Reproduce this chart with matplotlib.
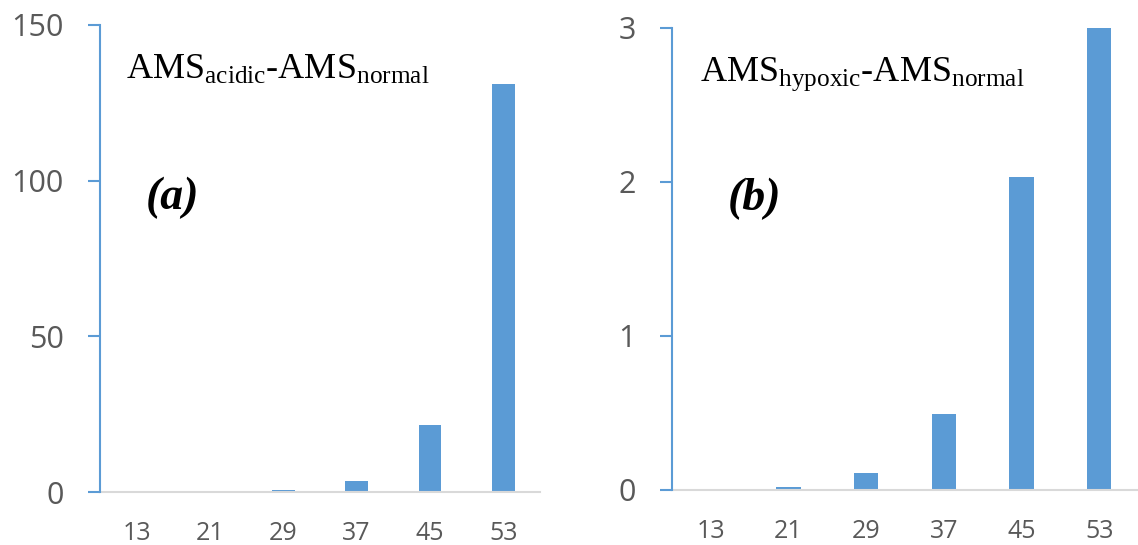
import matplotlib
matplotlib.use('Agg')
import matplotlib.pyplot as plt
import numpy as np

plt.rcParams['mathtext.fontset'] = 'custom'
plt.rcParams['mathtext.rm'] = 'Liberation Serif'
plt.rcParams['mathtext.it'] = 'Liberation Serif:italic'

# bar data for both panels
categories = ['13', '21', '29', '37', '45', '53']
acidicDiff = [0.0, 0.0, 0.6, 3.4, 21.6, 131.0]
hypoxicDiff = [0.0, 0.02, 0.11, 0.49, 2.03, 3.0]

acidicTicks = [0, 50, 100, 150]
hypoxicTicks = [0, 1, 2, 3]

barColor = '#5B9BD5'
axisBlue = '#5B9BD5'
tickGray = '#595959'

fig = plt.figure(figsize=(11.38, 5.45), dpi=100)
ax1 = fig.add_axes([0.0879, 0.0972, 0.3866, 0.857])
ax2 = fig.add_axes([0.5905, 0.101, 0.4095, 0.848])


def styleAxis(ax, vals, yticks, label, tag, tagX):
    x = np.arange(len(categories))
    ax.bar(x, vals, width=0.31, color=barColor, zorder=2)
    ax.set_xlim(-0.5, len(categories) - 0.5)
    ax.set_ylim(0, yticks[-1])
    ax.set_yticks(yticks)
    ax.set_xticks(x)
    ax.set_xticklabels(categories)
    for side in ['top', 'right']:
        ax.spines[side].set_visible(False)
    ax.spines['left'].set_color(axisBlue)
    ax.spines['left'].set_linewidth(1.5)
    ax.spines['bottom'].set_color('#D9D9D9')
    ax.spines['bottom'].set_linewidth(1.5)
    ax.tick_params(axis='y', colors=axisBlue, length=9, width=1.5, pad=17,
                   labelcolor=tickGray, labelsize=22)
    ax.tick_params(axis='x', length=0, pad=21, labelcolor=tickGray, labelsize=18)
    for t in ax.get_xticklabels() + ax.get_yticklabels():
        t.set_fontfamily('Open Sans')
    ax.spines['left'].set_zorder(3)
    ax.text(0.06, 0.885, label, transform=ax.transAxes, fontsize=26,
            family='Liberation Serif', va='baseline')
    ax.text(tagX, 0.63, tag, transform=ax.transAxes, fontsize=33,
            family='Liberation Serif', style='italic', weight='bold', va='center')


styleAxis(ax1, acidicDiff, acidicTicks,
          r'AMS$_{\mathrm{acidic}}$-AMS$_{\mathrm{normal}}$', '(a)', 0.105)
styleAxis(ax2, hypoxicDiff, hypoxicTicks,
          r'AMS$_{\mathrm{hypoxic}}$-AMS$_{\mathrm{normal}}$', '(b)', 0.12)

fig.savefig('out.png', dpi=100)
